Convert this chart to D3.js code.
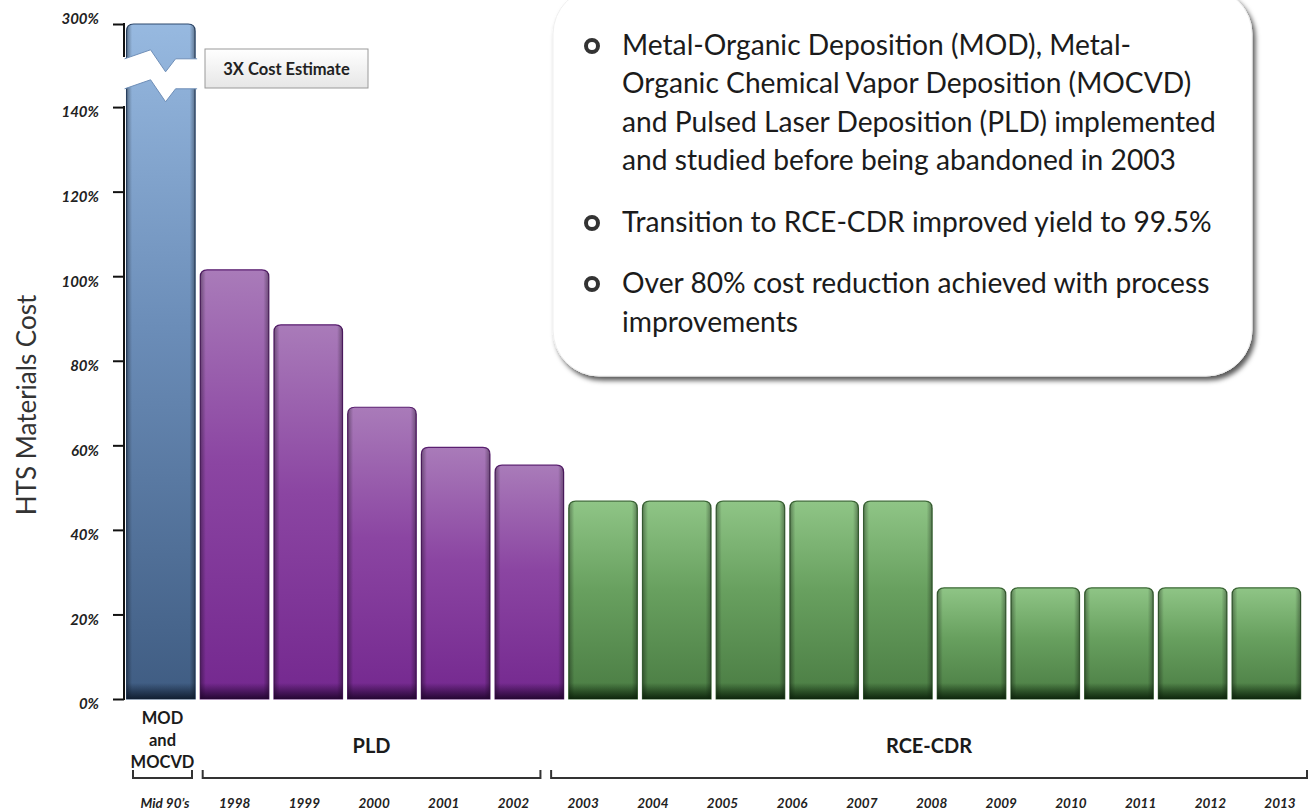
<!DOCTYPE html>
<html>
<head>
<meta charset="utf-8">
<script src="https://cdn.jsdelivr.net/npm/d3@7"></script>
<style>
  html, body { margin: 0; padding: 0; background: #ffffff; }
  svg { display: block; font-family: Lato, "Open Sans", sans-serif; }
</style>
</head>
<body>
<svg id="chart" width="1314" height="810"></svg>
<script>
// ---- data ----
const barValues  = [300, 101.5, 88.5, 69, 59.5, 55.3, 46.8, 46.8, 46.8, 46.8, 46.8, 26.3, 26.3, 26.3, 26.3, 26.3];
const barProcess = ["MOD", "PLD", "PLD", "PLD", "PLD", "PLD",
                    "RCE", "RCE", "RCE", "RCE", "RCE", "RCE", "RCE", "RCE", "RCE", "RCE"];
const yearLabels = ["Mid 90\u2019s", "1998", "1999", "2000", "2001", "2002", "2003", "2004", "2005",
                    "2006", "2007", "2008", "2009", "2010", "2011", "2012", "2013"];
const yTicks     = [0, 20, 40, 60, 80, 100, 120, 140, 300];
const groupNames = [["MOD", "and", "MOCVD"], ["PLD"], ["RCE-CDR"]];
const groupFirst = ["Mid 90\u2019s", "1998", "2003"];
const groupLast  = ["Mid 90\u2019s", "2002", "2013"];
const bullets = [
  ["Metal-Organic Deposition (MOD), Metal-",
   "Organic Chemical Vapor Deposition (MOCVD)",
   "and Pulsed Laser Deposition (PLD) implemented",
   "and studied before being abandoned in 2003"],
  ["Transition to RCE-CDR improved yield to 99.5%"],
  ["Over 80% cost reduction achieved with process",
   "improvements"]
];
const breakNote = "3X Cost Estimate";
const yTitle = "HTS Materials Cost";

// ---- setup ----
const svg = d3.select("#chart");
const defs = svg.append("defs");

// broken axis: linear up to 150%, compressed segment up to 300%
const y = d3.scaleLinear().domain([0, 150, 300]).range([699, 64.8, 24]);
const x = d3.scaleBand().domain(d3.range(barValues.length)).range([124, 1303.2])
  .paddingInner(0.07).paddingOuter(0.035);
const xl = d3.scalePoint().domain(yearLabels).range([165, 1280]);

const palettes = {
  MOD: { top: "#97b9e0", mid: "#6b8db8", bot: "#3f5c82", edge: "#2f4a6e", dark: "#0f1c2e" },
  PLD: { top: "#a97bb9", mid: "#8b45a2", bot: "#74288f", edge: "#5a1f70", dark: "#22052f" },
  RCE: { top: "#8fc586", mid: "#68a05f", bot: "#4a7c43", edge: "#3f6b39", dark: "#0b220a" }
};
Object.entries(palettes).forEach(([k, p]) => {
  const g = defs.append("linearGradient").attr("id", "fill-" + k)
    .attr("x1", 0).attr("y1", 0).attr("x2", 0).attr("y2", 1);
  g.append("stop").attr("offset", "0%").attr("stop-color", p.top);
  g.append("stop").attr("offset", "45%").attr("stop-color", p.mid);
  g.append("stop").attr("offset", "100%").attr("stop-color", p.bot);
  const b = defs.append("linearGradient").attr("id", "base-" + k)
    .attr("x1", 0).attr("y1", 0).attr("x2", 0).attr("y2", 1);
  b.append("stop").attr("offset", "0%").attr("stop-color", p.dark).attr("stop-opacity", 0);
  b.append("stop").attr("offset", "100%").attr("stop-color", p.dark).attr("stop-opacity", 0.95);
});
const side = defs.append("linearGradient").attr("id", "sides")
  .attr("x1", 0).attr("y1", 0).attr("x2", 1).attr("y2", 0);
[[0, 0.35], [0.08, 0], [0.92, 0], [1, 0.35]].forEach(([o, a]) =>
  side.append("stop").attr("offset", o).attr("stop-color", "#000").attr("stop-opacity", a));
const boxGrad = defs.append("linearGradient").attr("id", "noteFill")
  .attr("x1", 0).attr("y1", 0).attr("x2", 0).attr("y2", 1);
boxGrad.append("stop").attr("offset", "0%").attr("stop-color", "#ffffff");
boxGrad.append("stop").attr("offset", "100%").attr("stop-color", "#e6e6e6");
const shadow = defs.append("filter").attr("id", "shadow")
  .attr("x", "-10%").attr("y", "-10%").attr("width", "125%").attr("height", "125%");
shadow.append("feDropShadow").attr("dx", 3).attr("dy", 4).attr("stdDeviation", 2.5)
  .attr("flood-color", "#000").attr("flood-opacity", 0.65);

// rounded-top bar outline
function barPath(x0, w, yTop, yBase, r) {
  return `M${x0},${yBase}V${yTop + r}Q${x0},${yTop} ${x0 + r},${yTop}` +
         `H${x0 + w - r}Q${x0 + w},${yTop} ${x0 + w},${yTop + r}V${yBase}Z`;
}

// ---- callout panel ----
const panel = svg.append("g");
panel.append("rect").attr("x", 553).attr("y", -12).attr("width", 699).attr("height", 388)
  .attr("rx", 46).attr("fill", "#ffffff").attr("stroke", "#efefef").attr("stroke-width", 1)
  .attr("filter", "url(#shadow)");
const bulletRows = [[45, 83, 122, 160], [222], [283, 322]];
const fontSize = 26;
bullets.forEach((lines, i) => {
  panel.append("circle").attr("cx", 592).attr("cy", bulletRows[i][0] + 1).attr("r", 6)
    .attr("fill", "none").attr("stroke", "#333").attr("stroke-width", 4);
  lines.forEach((t, j) => {
    panel.append("text").attr("class", "bullet").attr("x", 622).attr("y", bulletRows[i][j])
      .attr("dy", "0.36em").attr("font-size", fontSize).attr("fill", "#1b1b1b").text(t);
  });
});
// fit the longest bullet line to the panel width
const longest = d3.max(panel.selectAll("text.bullet").nodes(), n => n.getComputedTextLength());
panel.selectAll("text.bullet").attr("font-size", fontSize * 594 / longest);

// ---- bars ----
const bars = svg.append("g");
barValues.forEach((v, i) => {
  const k = barProcess[i], p = palettes[k];
  const x0 = x(i), w = x.bandwidth(), yt = y(v), yb = y(0);
  bars.append("path").attr("d", barPath(x0, w, yt, yb, 7))
    .attr("fill", `url(#fill-${k})`).attr("stroke", p.edge).attr("stroke-width", 1.2);
  bars.append("path").attr("d", barPath(x0, w, yt, yb, 7)).attr("fill", "url(#sides)");
  bars.append("rect").attr("x", x0).attr("y", yb - 16).attr("width", w).attr("height", 16)
    .attr("fill", `url(#base-${k})`);
});

// break across the tall bar
const bx = x(0), bw = x.bandwidth(), b0 = y(150) - 6, gap = 30;
const upper = [[bx - 2, b0], [bx + 24, b0 - 9], [bx + 39, b0 + 13], [bx + 49, b0], [bx + bw + 2, b0]];
const lower = upper.map(([px, py]) => [px, py + gap]).reverse();
bars.append("path").attr("d", "M" + upper.concat(lower).map(p => p.join(",")).join("L") + "Z")
  .attr("fill", "#ffffff");
bars.append("path").attr("d", d3.line()(upper)).attr("fill", "none").attr("stroke", "#6f8fb8").attr("stroke-width", 1);
bars.append("path").attr("d", d3.line()(lower)).attr("fill", "none").attr("stroke", "#6f8fb8").attr("stroke-width", 1);

// note box
const note = svg.append("g");
note.append("rect").attr("x", 205).attr("y", 49).attr("width", 163).attr("height", 39)
  .attr("fill", "url(#noteFill)").attr("stroke", "#9a9a9a").attr("stroke-width", 1);
note.append("text").attr("x", 286.5).attr("y", 69).attr("dy", "0.35em").attr("text-anchor", "middle")
  .attr("font-size", 16.5).attr("font-weight", 700).attr("fill", "#222").text(breakNote);

// ---- y axis ----
const yAxis = svg.append("g").attr("transform", "translate(124,0)")
  .call(d3.axisLeft(y).tickValues(yTicks).tickSize(11).tickPadding(14).tickFormat(d => d + "%"));
yAxis.select(".domain").remove();
yAxis.selectAll(".tick line").attr("stroke", "#111").attr("stroke-width", 2);
yAxis.selectAll(".tick text").attr("font-size", 15).attr("font-weight", 700)
  .attr("font-style", "italic").attr("fill", "#222").attr("font-family", "Lato, sans-serif")
  .attr("transform", d => d === 300 ? "translate(0,-5)" : "translate(0,5)");
yAxis.append("line").attr("x1", 0).attr("x2", 0).attr("y1", y(300) - 1).attr("y2", y(300) + 33)
  .attr("stroke", "#111").attr("stroke-width", 2);
yAxis.append("line").attr("x1", 0).attr("x2", 0).attr("y1", y(140) - 1).attr("y2", y(0) + 1)
  .attr("stroke", "#111").attr("stroke-width", 2);

svg.append("text").attr("transform", "translate(27,405) rotate(-90)").attr("text-anchor", "middle")
  .attr("dy", "0.35em").attr("font-size", 26).attr("fill", "#333").text(yTitle);

// ---- period labels, process groups and brackets ----
const bottom = svg.append("g");
yearLabels.forEach(t => {
  bottom.append("text").attr("x", xl(t)).attr("y", 803).attr("dy", "0.35em")
    .attr("text-anchor", "middle").attr("font-size", 13.5).attr("font-weight", 700)
    .attr("font-style", "italic").attr("fill", "#222").text(t);
});
groupNames.forEach((names, i) => {
  const xa = xl(groupFirst[i]) - 32, xb = xl(groupLast[i]) + 27;
  bottom.append("path").attr("d", `M${xa},770V778H${xb}V770`)
    .attr("fill", "none").attr("stroke", "#333").attr("stroke-width", 2);
  const cx = (xa + xb) / 2;
  if (names.length > 1) {
    names.forEach((n, j) => bottom.append("text").attr("x", cx).attr("y", 718 + j * 22)
      .attr("dy", "0.35em").attr("text-anchor", "middle").attr("font-size", 16.5)
      .attr("font-weight", 700).attr("fill", "#1b1b1b").text(n));
  } else {
    bottom.append("text").attr("x", cx).attr("y", 746).attr("dy", "0.35em")
      .attr("text-anchor", "middle").attr("font-size", 20).attr("font-weight", 700)
      .attr("fill", "#1b1b1b").text(names[0]);
  }
});
</script>
</body>
</html>
